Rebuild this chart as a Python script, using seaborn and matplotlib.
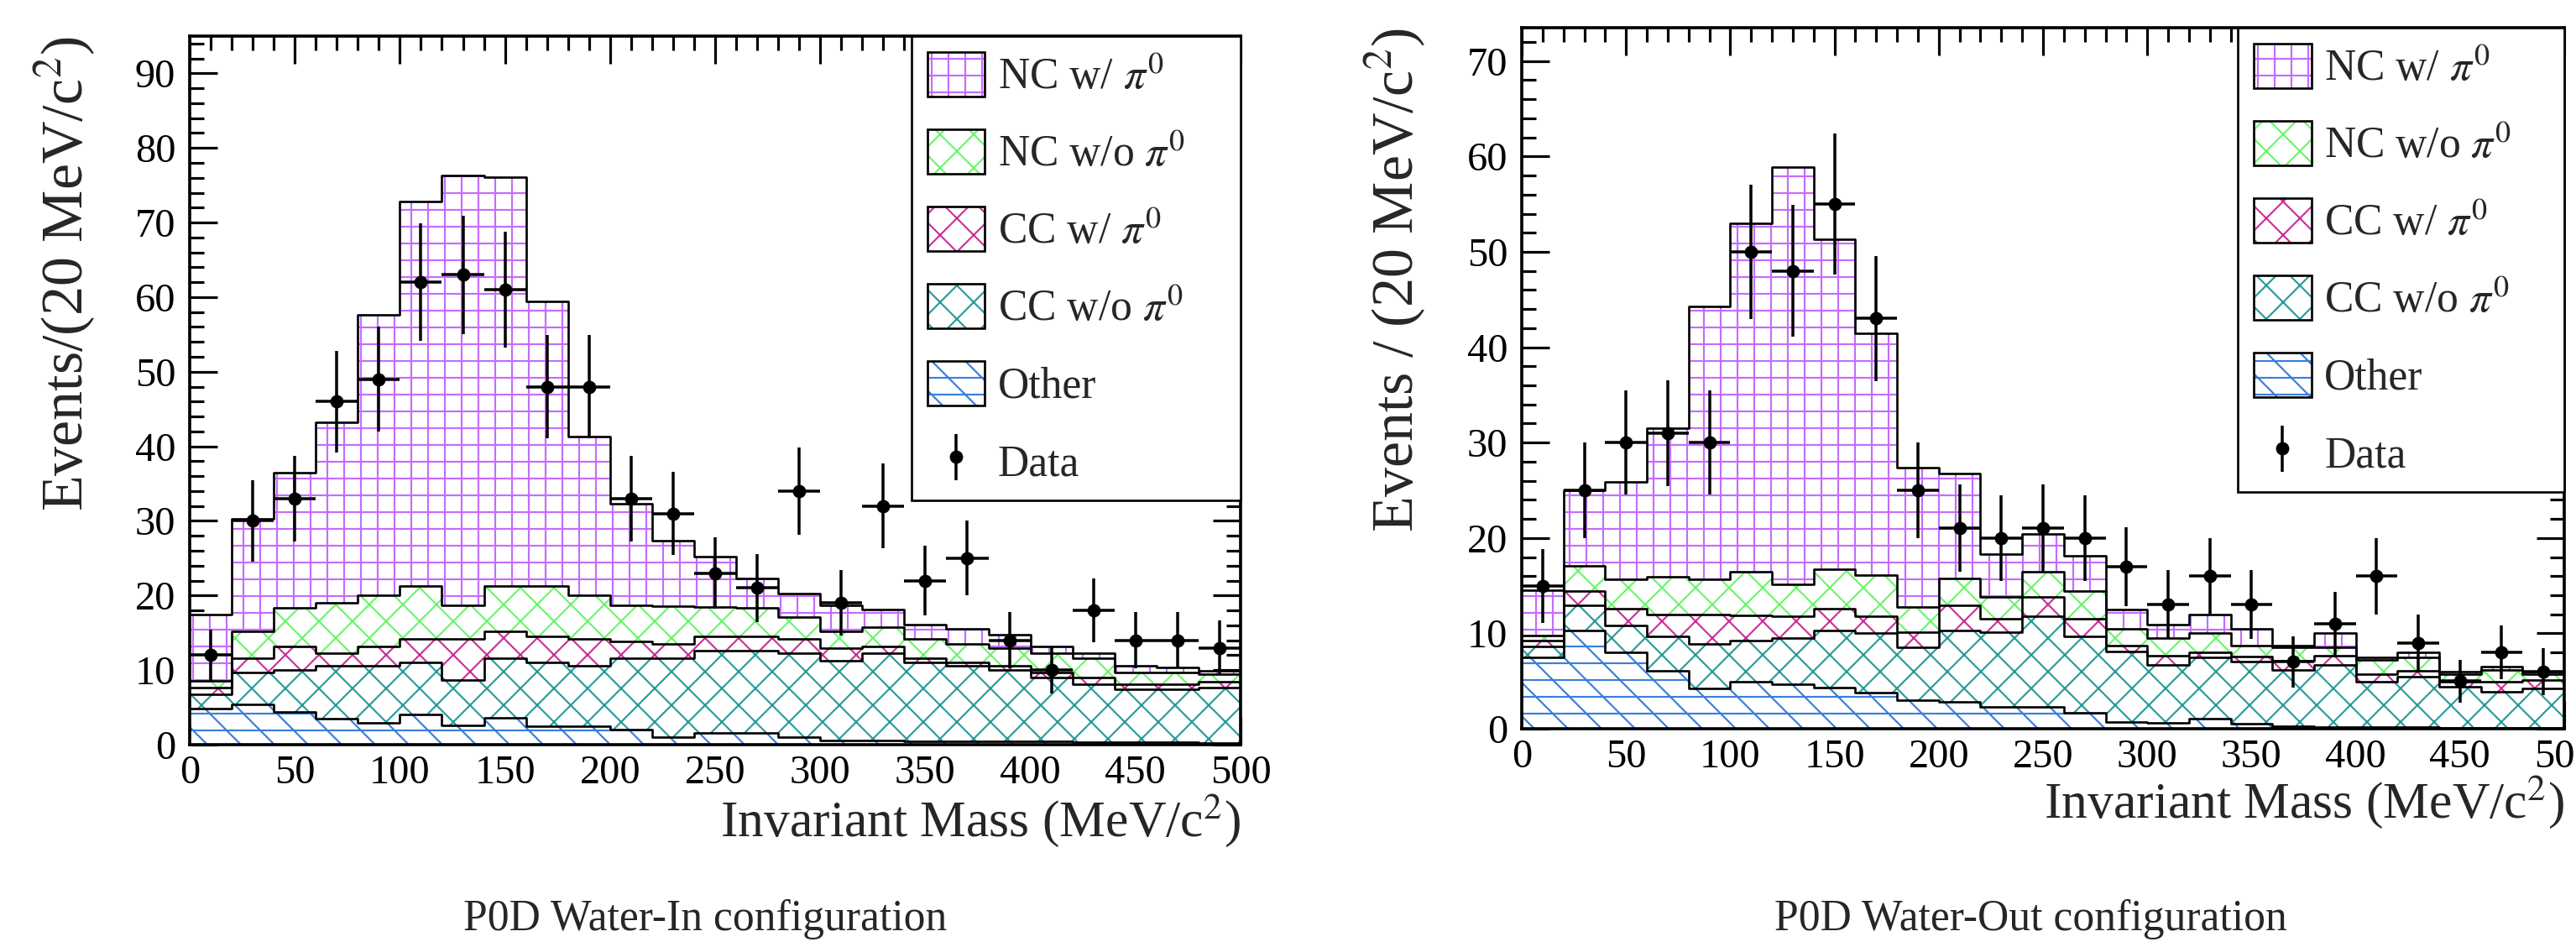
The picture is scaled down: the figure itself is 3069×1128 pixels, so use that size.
import numpy as np
import pandas as pd
import matplotlib
matplotlib.use("Agg")
import matplotlib.pyplot as plt
import seaborn as sns
from matplotlib.colors import to_rgb
from matplotlib.patches import Patch
from matplotlib.lines import Line2D
from matplotlib.legend_handler import HandlerTuple
from matplotlib.ticker import MultipleLocator

# 20 MeV bins from 0 to 500 MeV/c^2
bin_width = 20
centers = np.arange(10, 500, bin_width)

labels = ["NC w/ $\\pi^{0}$", "NC w/o $\\pi^{0}$", "CC w/ $\\pi^{0}$",
          "CC w/o $\\pi^{0}$", "Other"]

# Water-In configuration (events per bin, per component)
win_nc_pi0 = [8.8, 15.1, 18.1, 24.2, 37.6, 51.5, 57.6, 54.8, 38.1, 21.3, 13.6, 8.8, 6.7,
              3.9, 3.2, 3.5, 2.3, 1.9, 2.0, 1.9, 0.9, 0.7, 0.9, 0.6, 0.5]
win_nc_nopi0 = [1.0, 3.6, 5.2, 6.7, 6.8, 7.1, 4.5, 6.1, 6.8, 5.8, 4.8, 5.1, 4.0,
                3.9, 2.9, 2.3, 2.6, 2.6, 2.5, 2.3, 2.6, 2.6, 1.6, 1.6, 1.0]
win_cc_pi0 = [0.8, 1.9, 3.2, 1.7, 2.6, 3.2, 5.5, 3.6, 3.5, 3.6, 2.3, 1.9, 1.9,
              1.9, 1.9, 1.6, 0.9, 0.6, 0.4, 0.6, 0.7, 0.9, 0.7, 0.7, 0.7]
win_cc_nopi0 = [2.0, 4.3, 5.6, 7.1, 7.7, 7.0, 6.1, 8.0, 8.5, 8.1, 9.6, 10.6, 11.0,
                11.0, 11.3, 10.7, 11.7, 10.5, 10.1, 9.5, 8.6, 7.8, 7.1, 7.1, 7.5]
win_other = [4.8, 5.4, 4.4, 3.5, 2.9, 4.0, 2.6, 3.6, 2.5, 2.5, 2.0, 1.0, 1.6,
             1.6, 1.0, 0.6, 0.6, 0.5, 0.5, 0.5, 0.4, 0.3, 0.3, 0.3, 0.2]
win_data = [12, 30, 33, 46, 49, 62, 63, 61, 48, 48, 33, 31, 23,
            21, 34, 19, 32, 22, 25, 14, 10, 18, 14, 14, 13]

# Water-Out configuration
wout_nc_pi0 = [4.7, 7.9, 10.2, 15.6, 28.6, 36.5, 43.8, 34.6, 25.4, 14.6, 11.0, 4.5, 3.9,
               3.7, 2.0, 1.4, 2.0, 1.8, 0.2, 1.5, 0.3, 0.5, 0.3, 0.3, 0.3]
wout_nc_nopi0 = [0.6, 2.7, 3.1, 3.9, 3.7, 4.6, 3.3, 4.1, 4.3, 2.7, 2.9, 2.3, 2.7,
                 2.9, 1.8, 1.8, 2.0, 1.1, 1.4, 0.8, 1.5, 1.4, 0.8, 1.3, 0.6]
wout_cc_pi0 = [0.6, 1.5, 1.8, 2.3, 3.1, 2.7, 2.3, 2.3, 1.8, 1.6, 2.6, 1.4, 2.0,
               1.8, 0.6, 1.0, 0.5, 0.6, 0.9, 1.0, 0.8, 0.6, 0.5, 1.0, 0.9]
wout_cc_nopi0 = [1.1, 2.6, 2.8, 3.6, 4.7, 4.3, 4.8, 6.0, 6.2, 5.5, 7.5, 7.8, 9.5,
                 8.0, 7.4, 6.1, 6.4, 6.5, 5.9, 6.5, 4.7, 5.3, 4.3, 3.8, 4.1]
wout_other = [7.5, 10.3, 8.0, 6.1, 4.2, 4.9, 4.7, 4.3, 3.8, 3.0, 2.8, 2.3, 2.3,
              1.7, 0.7, 0.6, 1.1, 0.5, 0.3, 0.2, 0.2, 0.2, 0.1, 0.1, 0.1]
wout_data = [15, 25, 30, 31, 30, 50, 48, 55, 43, 25, 21, 20, 21,
             20, 17, 13, 16, 13, 7, 11, 16, 9, 5, 8, 6]

palette = {labels[0]: "#c56cff", labels[1]: "#6df56d", labels[2]: "#cc3399",
           labels[3]: "#2a9d9a", labels[4]: "#3a7fdc"}
hatches = {labels[0]: "+", labels[1]: "x", labels[2]: "x",
           labels[3]: "x", labels[4]: "-\\"}

DPI = 120
sns.set_style("ticks")
plt.rcParams["font.family"] = ["Liberation Serif", "DejaVu Serif"]
plt.rcParams["mathtext.fontset"] = "stix"
plt.rcParams["hatch.linewidth"] = 1.3


def draw_panel(ax, comps, data, ymax, ylabel, ylab_x, xlab_y):
    df = pd.DataFrame({
        "mass": np.tile(centers, len(labels)),
        "events": np.concatenate(comps),
        "component": np.repeat(labels, len(centers)),
    })
    hist_kws = dict(data=df, x="mass", weights="events", hue="component",
                    hue_order=labels, binwidth=bin_width, binrange=(0, 500),
                    multiple="stack", element="step", legend=False, ax=ax)
    sns.histplot(palette=palette, fill=True, **hist_kws)
    # turn the filled layers into ROOT-like hatched areas
    for coll in ax.collections:
        rgb = coll.get_facecolor()[0][:3]
        for name in labels:
            if np.allclose(rgb, to_rgb(palette[name]), atol=0.01):
                coll.set_facecolor("white")
                coll.set_edgecolor(palette[name])
                coll.set_hatch(hatches[name])
                coll.set_linewidth(0)
    sns.histplot(palette={k: "black" for k in labels}, fill=False,
                 linewidth=1.6, **hist_kws)

    ax.errorbar(centers, data, xerr=bin_width / 2, yerr=np.sqrt(data), fmt="o",
                color="black", ms=8.5, elinewidth=2.1, capsize=0, zorder=6)

    ax.set_xlim(0, 500)
    ax.set_ylim(0, ymax)
    ax.xaxis.set_major_locator(MultipleLocator(50))
    ax.xaxis.set_minor_locator(MultipleLocator(10))
    ax.yaxis.set_major_locator(MultipleLocator(10))
    ax.yaxis.set_minor_locator(MultipleLocator(2))
    ax.tick_params(which="both", direction="in", top=True, right=True,
                   width=1.9, labelsize=29, colors="black")
    ax.tick_params(which="major", length=20, pad=7)
    ax.tick_params(which="minor", length=10)
    ax.tick_params(axis="y", pad=10)
    for sp in ax.spines.values():
        sp.set_visible(True)
        sp.set_linewidth(2.2)
        sp.set_color("black")

    ax.set_xlabel("Invariant Mass (MeV/c$^{2}$)", fontsize=37, loc="right")
    ax.xaxis.set_label_coords(1.0, xlab_y)
    ax.set_ylabel(ylabel, fontsize=42, loc="top")
    ax.yaxis.set_label_coords(ylab_x, 1.0)

    handles = []
    for name in labels:
        hatch_patch = Patch(facecolor="white", edgecolor=palette[name],
                            hatch=hatches[name], linewidth=0)
        frame_patch = Patch(facecolor="none", edgecolor="black", linewidth=1.6)
        handles.append((hatch_patch, frame_patch))
    bar = Line2D([], [], marker="|", markersize=33, markeredgewidth=2.1,
                 color="black", linestyle="none")
    dot = Line2D([], [], marker="o", markersize=8.5, color="black", linestyle="none")
    handles.append((bar, dot))
    leg = ax.legend(handles, labels + ["Data"], handler_map={tuple: HandlerTuple(ndivide=1)},
                    loc="upper left", bbox_to_anchor=(0.687, 0.0, 0.313, 1.0),
                    mode="expand", borderaxespad=0, fontsize=31, frameon=True,
                    fancybox=False, framealpha=1, edgecolor="black",
                    handlelength=1.33, handleheight=1.2, handletextpad=0.3,
                    labelspacing=0.72, borderpad=0.36)
    leg.get_frame().set_linewidth(1.6)


fig = plt.figure(figsize=(3069 / DPI, 1128 / DPI), dpi=DPI)
ax1 = fig.add_axes([226 / 3069, 1 - 887 / 1128, 1252 / 3069, 844 / 1128])
ax2 = fig.add_axes([1813 / 3069, 1 - 868 / 1128, 1242 / 3069, 835 / 1128])

draw_panel(ax1, [win_nc_pi0, win_nc_nopi0, win_cc_pi0, win_cc_nopi0, win_other],
           win_data, 95, "Events/(20 MeV/c$^{2}$)", -0.088, -0.066)
draw_panel(ax2, [wout_nc_pi0, wout_nc_nopi0, wout_cc_pi0, wout_cc_nopi0, wout_other],
           wout_data, 73.5, "Events / (20 MeV/c$^{2}$)", -0.090, -0.064)

fig.text(840 / 3069, 1 - 1108 / 1128, "P0D Water-In configuration",
         ha="center", va="baseline", fontsize=31)
fig.text(2419 / 3069, 1 - 1108 / 1128, "P0D Water-Out configuration",
         ha="center", va="baseline", fontsize=31)

fig.savefig("out.png", dpi=DPI)
